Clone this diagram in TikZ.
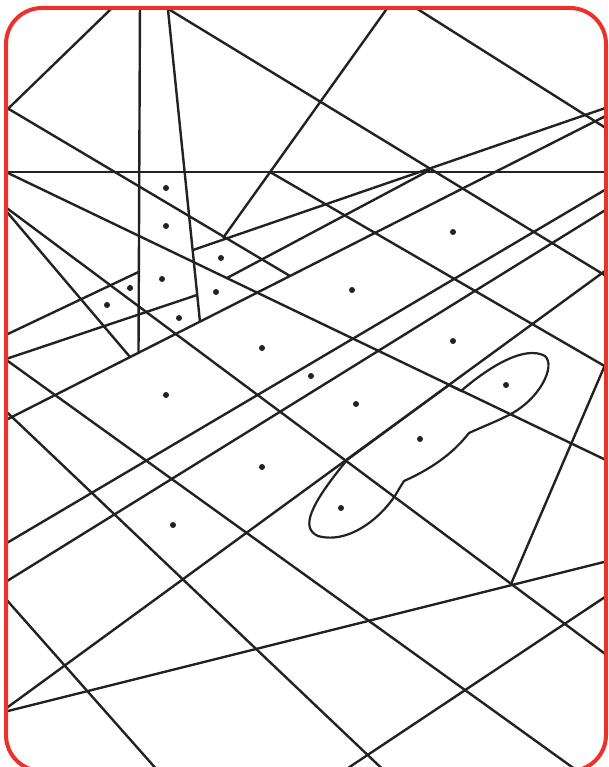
\documentclass[tikz,border=0pt]{standalone}
\usepackage{tikz}
\definecolor{framered}{RGB}{236,48,44}
\definecolor{ink}{RGB}{34,34,34}
\begin{document}
\begin{tikzpicture}[x=1pt, y=-1pt,
  cut/.style={line width=2.4pt, draw=ink},
  site/.style={fill=ink},
  blob/.style={line width=2.2pt, draw=ink},
  frame/.style={line width=4pt, draw=framered, rounded corners=36pt}]
  \useasboundingbox (0,0) rectangle (608,767);
  \begin{scope}
    \clip[rounded corners=36pt] (6,8) rectangle (606,771);
    % the straight cuts
    \foreach \xa/\ya/\xb/\yb in {
      0/172/620/172, 120.3/0/0/116.6, 0/103.8/290/276, 140/0/138.5/353,
      167/0/200/322, 153.6/0/620/284.5, 393.1/0/223/238, 403.2/0/620/137,
      193/250/620/103, 227/278/430/170, 270/172/620/375, 0/169.2/620/466.8,
      0/203.8/130/357, 0/203/620/665, 0/337.7/138.5/272, 0/361/197/295,
      0/423/620/108.7, 0/405.6/394/780, 0/355.4/590/780, 0/547/620/181,
      0/585.4/620/201, 0/712.8/620/260, 0/713/620/558, 0/592.4/166/780,
      620/330/511/584, 620/587/336/776}
      \draw[cut] (\xa,\ya) -- (\xb,\yb);
  \end{scope}
  % the closed curve
  \draw[blob] (449,385) -- (461,391)
    .. controls (490,366) and (525,345) .. (545,356)
    .. controls (556,366) and (540,400) .. (507,416)
    .. controls (495,422) and (482,427) .. (469,433)
    .. controls (458,447) and (440,465) .. (404,481)
    -- (399,489)
    .. controls (385,515) and (350,545) .. (318,536)
    .. controls (300,528) and (310,505) .. (347,460) -- cycle;
  % the points
  \foreach \px/\py in {166/188, 166/226, 221/258, 162/279, 130/288, 107/305,
      216/292, 179/318, 262/348, 352/290, 453/232, 453/341, 311/376,
      356/404, 166/395, 506/385, 420/439, 262/467, 341/508, 173/525}
    \fill[site] (\px,\py) circle (3pt);
  \draw[frame] (6,8) rectangle (606,771);
\end{tikzpicture}
\end{document}
